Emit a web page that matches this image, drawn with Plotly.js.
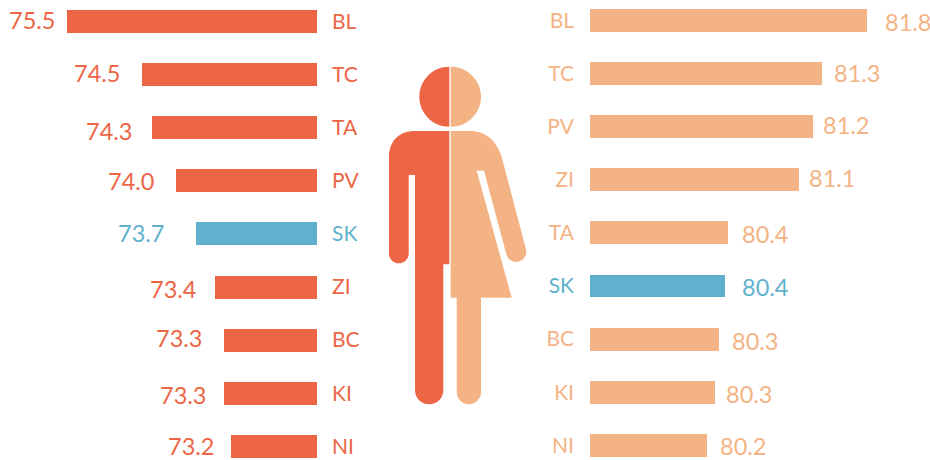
<!DOCTYPE html>
<html>
<head>
<meta charset="utf-8">
<script src="https://cdn.plot.ly/plotly-3.0.1.min.js"></script>
<style>html,body{margin:0;padding:0;background:#fff}#chart{width:930px;height:460px}</style>
</head>
<body>
<div id="chart"></div>
<script>
// Male side
var maleCategories = ['BL','TC','TA','PV','SK','ZI','BC','KI','NI'];
var maleValues     = [75.51,74.45,74.31,73.98,73.70,73.43,73.30,73.30,73.21];
var maleLabels     = ['75.5','74.5','74.3','74.0','73.7','73.4','73.3','73.3','73.2'];
// Female side
var femaleCategories = ['BL','TC','PV','ZI','TA','SK','BC','KI','NI'];
var femaleValues     = [81.80,81.35,81.26,81.12,80.41,80.38,80.32,80.28,80.20];
var femaleLabels     = ['81.8','81.3','81.2','81.1','80.4','80.4','80.3','80.3','80.2'];
var highlight = 'SK';

// Label placement offsets, px
var maleGap = [11.5,22.5,20.5,21.5,31.5,19.5,22.5,18.5,16.5];
var maleNudge = [-2,-1.5,3,0,-0.5,2,-1.8,1.8,0];
var femaleGap = [17.7,12,10,10,13.7,16.7,12.7,11,12.7];
var femaleNudge = [1,-0.3,-1.5,-1.8,1,1,1.7,1.4,0.5];

var RED='#EC6646', PEACH='#F4B384', BLUE='#5FB1CD';
var FONT='Lato, "Noto Sans", sans-serif';
var W=930, H=460;

function tickTexts(cats){
  return cats.map(function(c){return c===highlight?'<span style="color:'+BLUE+'">'+c+'</span>':c;});
}
function colors(cats,base){return cats.map(function(c){return c===highlight?BLUE:base;});}

var traces=[
 {type:'bar',orientation:'h',x:maleValues,y:maleCategories,xaxis:'x',yaxis:'y',width:0.433,
  marker:{color:colors(maleCategories,RED)},hoverinfo:'x+y',showlegend:false},
 {type:'bar',orientation:'h',x:femaleValues,y:femaleCategories,xaxis:'x2',yaxis:'y2',width:0.433,
  marker:{color:colors(femaleCategories,PEACH)},hoverinfo:'x+y',showlegend:false}
];

var annotations=[];
maleLabels.forEach(function(t,i){
  annotations.push({xref:'x',yref:'y',x:maleValues[i],y:maleCategories[i],text:t,showarrow:false,
    xanchor:'right',xshift:-maleGap[i]+2,yshift:-maleNudge[i],
    font:{family:FONT,size:23.5,color:maleCategories[i]===highlight?BLUE:RED}});
});
femaleLabels.forEach(function(t,i){
  annotations.push({xref:'x2',yref:'y2',x:femaleValues[i],y:femaleCategories[i],text:t,showarrow:false,
    xanchor:'left',xshift:femaleGap[i]-2,yshift:-femaleNudge[i],
    font:{family:FONT,size:23.5,color:femaleCategories[i]===highlight?BLUE:PEACH}});
});

// pictogram: path written in page pixels, converted to paper fractions
function P(cmds){
  return cmds.map(function(c){
    var out=c[0];
    for(var i=1;i<c.length;i+=2){out+=(i>1?' ':'')+(c[i]/W).toFixed(5)+','+(1-c[i+1]/H).toFixed(5);}
    return out;
  }).join(' ')+' Z';
}
var k=0.5523;
function shape(cmds,color){
  return {type:'path',xref:'paper',yref:'paper',path:P(cmds),fillcolor:color,line:{width:0},layer:'above'};
}
// semicircle going down-round from (x1,y) to (x2,y) with centre ((x1+x2)/2, y)
function capDown(x1,x2,y){
  var r=Math.abs(x2-x1)/2, c=(x1+x2)/2, s=x2>x1?1:-1;
  return [['C',x1,y+k*r,c-s*k*r,y+r,c,y+r],['C',c+s*k*r,y+r,x2,y+k*r,x2,y]];
}
var headL=[['M',449.3,66.7],['C',432.7,66.7,419.3,80.1,419.3,96.7],['C',419.3,113.3,432.7,126.7,449.3,126.7]];
var headR=[['M',450.7,66.7],['C',467.3,66.7,481,80.1,481,96.7],['C',481,113.3,467.3,126.7,450.7,126.7]];
var male=[['M',449.3,131],['L',415,131],['C',399,131,389,141,389,157],['L',389,253.5]]
  .concat(capDown(389,408.7,253.5))
  .concat([['L',408.7,175],['L',415,175],['L',415,390.2]])
  .concat(capDown(415,443.3,390.2))
  .concat([['L',443.3,264.3],['L',449.3,264.3]]);
var female=[['M',450.7,131],['L',470,131],['C',486,131,497,141,501.7,157],['L',526,249.2],
  ['C',527.45,254.6,524.2,260.15,518.8,261.6],['C',513.4,263.05,507.85,259.8,506.4,254.4],
  ['L',484,170.7],['L',476.7,170.7],['L',511.7,297.7],['L',481,297.7],['L',481,392]]
  .concat(capDown(481,456.7,392))
  .concat([['L',456.7,297.7],['L',450.7,297.7]]);

var layout={
  width:W,height:H,margin:{l:0,r:0,t:0,b:0},paper_bgcolor:'#fff',plot_bgcolor:'#fff',
  showlegend:false,bargap:0,
  xaxis:{domain:[0,317/W],range:[76.446,72],visible:false,fixedrange:true},
  yaxis:{anchor:'x',side:'right',domain:[0,1],range:[8.258,-0.405],type:'category',
    categoryorder:'array',categoryarray:maleCategories,
    tickmode:'array',tickvals:maleCategories,ticktext:tickTexts(maleCategories),
    tickfont:{family:FONT,size:21,color:RED},ticks:'',ticklabelstandoff:14,
    showline:false,showgrid:false,zeroline:false,fixedrange:true},
  xaxis2:{domain:[590/W,1],range:[79.03,82.43],visible:false,fixedrange:true},
  yaxis2:{anchor:'x2',side:'left',domain:[0,1],range:[8.277,-0.386],type:'category',
    categoryorder:'array',categoryarray:femaleCategories,
    tickmode:'array',tickvals:femaleCategories,ticktext:tickTexts(femaleCategories),
    tickfont:{family:FONT,size:21,color:PEACH},ticks:'',ticklabelstandoff:15,
    showline:false,showgrid:false,zeroline:false,fixedrange:true},
  annotations:annotations,
  shapes:[shape(headL,RED),shape(male,RED),shape(headR,PEACH),shape(female,PEACH)]
};
Plotly.newPlot('chart',traces,layout,{displayModeBar:false,staticPlot:true});
</script>
</body>
</html>
